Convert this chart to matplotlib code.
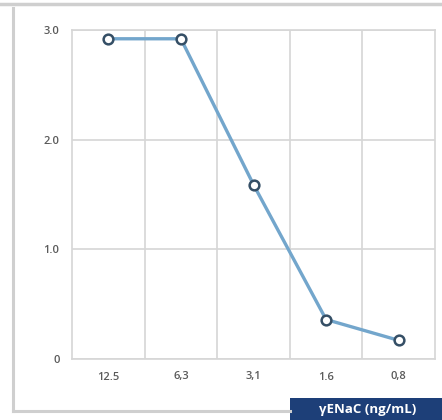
import matplotlib
matplotlib.use("Agg")
import matplotlib.pyplot as plt
from matplotlib.lines import Line2D
from matplotlib.patches import Rectangle

W, H = 442, 420

concentrations = ["12.5", "6,3", "3,1", "1.6", "0,8"]
signal = [2.92, 2.92, 1.59, 0.36, 0.17]
y_ticks = [0, 1.0, 2.0, 3.0]
y_tick_labels = ["0", "1.0", "2.0", "3.0"]
x_label = "γENaC (ng/mL)"

GRID = "#d6d6d6"
FRAME = "#cfcfcf"
LINE = "#73a6cc"
MARKER_EDGE = "#354f66"
TICK = "#5a5a5a"
NAVY = "#1d3f78"

plt.rcParams["font.family"] = ["Open Sans", "DejaVu Sans"]

fig = plt.figure(figsize=(W / 100, H / 100), dpi=100, facecolor="white")


def px(x0, y0, x1, y1):
    return [x0 / W, 1 - y1 / H, (x1 - x0) / W, (y1 - y0) / H]


ax = fig.add_axes(px(72, 30, 435, 359))
xs = list(range(len(concentrations)))
ax.plot(xs, signal, color=LINE, linewidth=2.4, marker="o", markersize=7,
        markerfacecolor="white", markeredgecolor=MARKER_EDGE, markeredgewidth=1.8,
        zorder=3, clip_on=False)

ax.set_xlim(-0.5, len(concentrations) - 0.5)
ax.set_ylim(0, 3.0)
ax.set_xticks(xs)
ax.set_xticklabels(concentrations)
ax.set_xticks([i + 0.5 for i in xs[:-1]], minor=True)
ax.set_yticks(y_ticks)
ax.set_yticklabels(y_tick_labels)
ax.grid(True, which="minor", axis="x", color=GRID, linewidth=1.2)
ax.grid(True, which="major", axis="y", color=GRID, linewidth=1.2)
ax.tick_params(which="both", length=0)
ax.tick_params(axis="x", pad=9, labelsize=8)
ax.tick_params(axis="y", pad=9, labelsize=8)
for lbl in ax.get_xticklabels() + ax.get_yticklabels():
    lbl.set_color(TICK)
    lbl.set_fontweight("semibold")
for s in ax.spines.values():
    s.set_color(GRID)
    s.set_linewidth(1.2)

# outer frame lines
fig.add_artist(Line2D([0, 1], [1 - 4 / H, 1 - 4 / H], color=FRAME, linewidth=2.5))
fig.add_artist(Line2D([13 / W, 13 / W], [1 - 8 / H, 1 - 411 / H], color=FRAME, linewidth=2.2))
fig.add_artist(Line2D([13 / W, 290 / W], [1 - 411 / H, 1 - 411 / H], color=FRAME, linewidth=2.2))

# label box
fig.add_artist(Rectangle((290 / W, 0), (W - 290) / W, 22 / H, transform=fig.transFigure,
                         facecolor=NAVY, edgecolor="none"))
fig.text(368 / W, 10 / H, x_label, color="white", fontsize=9.5, fontweight="bold",
         ha="center", va="center")

fig.savefig("out.png", dpi=100, facecolor="white")
